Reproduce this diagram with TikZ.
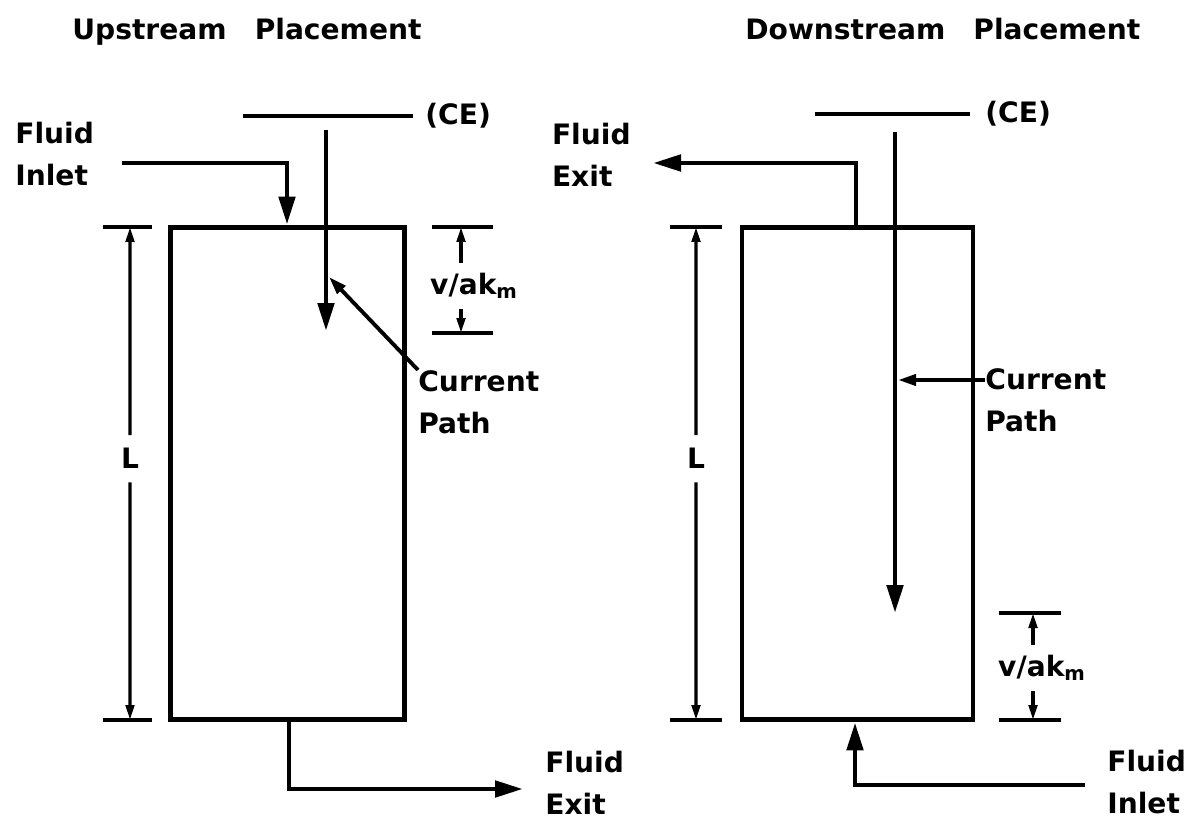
\documentclass[tikz,border=0pt]{standalone}
\usepackage{fontspec}
\setmainfont{DejaVu Sans}
\usepackage{tikz}
\usetikzlibrary{arrows.meta,calc}

\begin{document}
\begin{tikzpicture}[x=0.02cm,y=-0.02cm,
  lbl/.style={inner sep=0pt,align=left,font=\bfseries\fontsize{16}{24}\selectfont},
  vessel/.style={draw,line width=2.8pt,minimum width=4.68cm,minimum height=9.86cm,inner sep=0pt},
  wire/.style={line width=2.8pt},
  flow/.style={line width=2.8pt,-{Triangle[length=0.56cm,width=0.32cm]}},
  pointer/.style={line width=2.2pt,-{Triangle[length=0.36cm,width=0.22cm]}},
  dimarr/.style={line width=1.9pt,-{Triangle[length=0.3cm,width=0.17cm]}},
  tick/.style={line width=2.5pt}
]
\useasboundingbox (0,0) rectangle (1203,827);

\node[vessel] (ubox) at (287.5,473.5) {};
\node[lbl,anchor=base west] (utitle) at (72,40) {Upstream\quad Placement};

\node[lbl,anchor=west] (uce) at (425,116) {(CE)};
\coordinate (uceA) at (243,116);
\draw[wire] (uceA) -- ([xshift=-0.24cm]uce.west);
\coordinate (ucpA) at (326,130);
\coordinate (ucpB) at (326,331);
\draw[flow] (ucpA) -- (ucpB);

\node[lbl,anchor=north west] (uin) at (15,122) {Fluid\\Inlet};
\coordinate (uinA) at (122,163);
\coordinate (uinX) at (287,0);
\draw[flow] (uinA) -| (uinX |- ubox.north);

\node[lbl,anchor=north west] (uex) at (545,751) {Fluid\\Exit};
\coordinate (uexX) at (289,0);
\coordinate (uexB) at (523,789);
\draw[flow] (uexX |- ubox.south) |- (uexB);

\node[lbl,anchor=north west] (ucp) at (418,370) {Current\\Path};
\coordinate (ucpT) at (329,277);
\draw[pointer] (ucp.north west) -- (ucpT);

\coordinate (uLtop) at (130,227);
\coordinate (uLbot) at (130,720);
\draw[tick] (uLtop) ++(-27,0) -- ++(49,0);
\draw[tick] (uLbot) ++(-27,0) -- ++(49,0);
\node[lbl,inner ysep=0.26cm] (uL) at ($(uLtop)!0.47!(uLbot)$) {L};
\draw[dimarr] (uL) -- (uLtop);
\draw[dimarr] (uL) -- (uLbot);

\coordinate (uvtop) at (461,227);
\coordinate (uvbot) at (461,333);
\draw[tick] (uvtop) ++(-29,0) -- ++(61,0);
\draw[tick] (uvbot) ++(-29,0) -- ++(61,0);
\node[lbl,inner ysep=0.2cm] (uv) at (474,286) {v/ak\textsubscript{m}};
\draw[dimarr] (uvtop |- uv.north) -- (uvtop);
\draw[dimarr] (uvbot |- uv.south) -- (uvbot);

\node[vessel,minimum width=4.62cm] (dbox) at (857.5,473.5) {};
\node[lbl,anchor=base west] (dtitle) at (745,40) {Downstream\quad Placement};

\node[lbl,anchor=west] (dce) at (985,114) {(CE)};
\coordinate (dceA) at (815,114);
\draw[wire] (dceA) -- ([xshift=-0.3cm]dce.west);
\coordinate (dcpA) at (895,132);
\coordinate (dcpB) at (895,613);
\draw[flow] (dcpA) -- (dcpB);

\node[lbl,anchor=north east] (dex) at (631,123) {Fluid\\Exit};
\coordinate (dexX) at (856,0);
\coordinate (dexB) at (653,163);
\draw[flow] (dexX |- dbox.north) |- (dexB);

\node[lbl,anchor=north west] (dcp) at (985,368) {Current\\Path};
\coordinate (dcpT) at (898,380);
\draw[pointer] (dcpT -| dcp.west) -- (dcpT);

\coordinate (dLtop) at (696,227);
\coordinate (dLbot) at (696,720);
\draw[tick] (dLtop) ++(-26,0) -- ++(52,0);
\draw[tick] (dLbot) ++(-26,0) -- ++(52,0);
\node[lbl,inner ysep=0.26cm] (dL) at ($(dLtop)!0.47!(dLbot)$) {L};
\draw[dimarr] (dL) -- (dLtop);
\draw[dimarr] (dL) -- (dLbot);

\coordinate (dvtop) at (1033,613);
\coordinate (dvbot) at (1033,720);
\draw[tick] (dvtop) ++(-34,0) -- ++(62,0);
\draw[tick] (dvbot) ++(-34,0) -- ++(62,0);
\node[lbl,inner ysep=0.2cm] (dv) at (1042,668) {v/ak\textsubscript{m}};
\draw[dimarr] (dvtop |- dv.north) -- (dvtop);
\draw[dimarr] (dvbot |- dv.south) -- (dvbot);

\node[lbl,anchor=north west] (din) at (1107,750) {Fluid\\Inlet};
\coordinate (dinA) at (1085,785);
\coordinate (dinX) at (855,0);
\draw[flow] (dinA) -| (dinX |- dbox.south);
\end{tikzpicture}
\end{document}
